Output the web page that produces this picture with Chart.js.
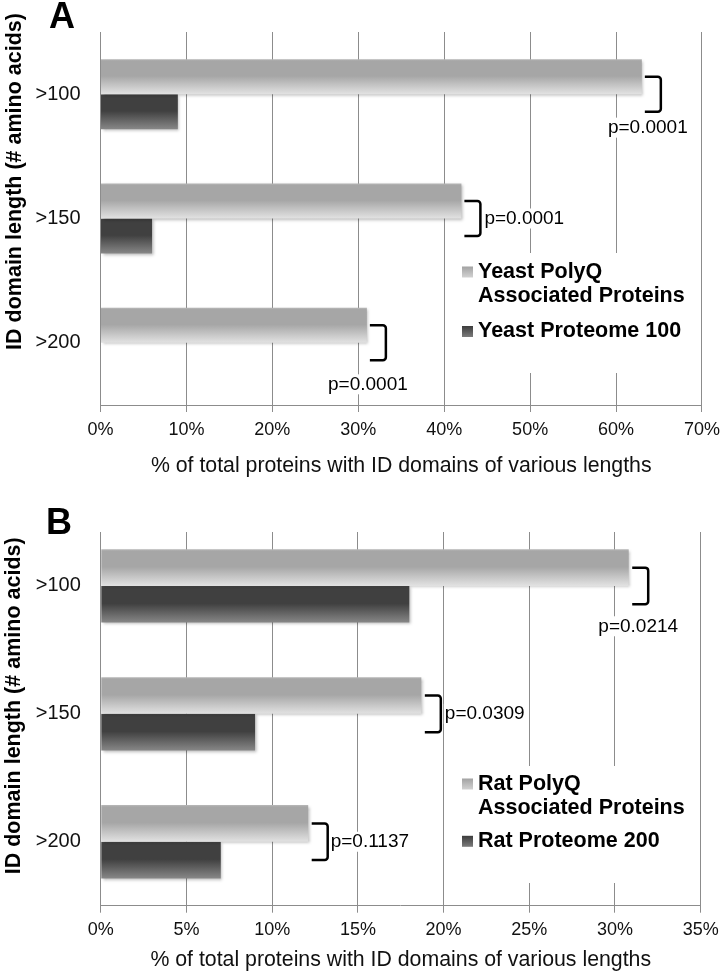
<!DOCTYPE html>
<html><head><meta charset="utf-8">
<script src="https://cdn.jsdelivr.net/npm/chart.js@4.4.0/dist/chart.umd.min.js"></script>
<style>
html,body{margin:0;padding:0;background:#fff;}
#wrap{position:relative;width:727px;height:975px;overflow:hidden;background:#fff;}
canvas{position:absolute;left:0;}
</style></head><body>
<div id="wrap">
<canvas id="chartA" width="727" height="490" style="top:0px"></canvas>
<canvas id="chartB" width="727" height="485" style="top:490px"></canvas>
</div>
<script>
// ---------------- data ----------------
const categories = ['>100', '>150', '>200'];

const yeastPolyQ = [63, 42, 31];
const yeastProteome = [9, 6, 0];
const yeastPValues = ['p=0.0001', 'p=0.0001', 'p=0.0001'];
const yeastSeriesNames = [['Yeast PolyQ', 'Associated Proteins'], ['Yeast Proteome 100']];
const xTicksA = [0, 10, 20, 30, 40, 50, 60, 70];

const ratPolyQ = [30.8, 18.7, 12.1];
const ratProteome = [18, 9, 7];
const ratPValues = ['p=0.0214', 'p=0.0309', 'p=0.1137'];
const ratSeriesNames = [['Rat PolyQ', 'Associated Proteins'], ['Rat Proteome 200']];
const xTicksB = [0, 5, 10, 15, 20, 25, 30, 35];

const xTitle = '% of total proteins with ID domains of various lengths';
const yTitle = 'ID domain length (# amino acids)';

// ---------------- styles ----------------
const FONT = '"Liberation Sans", Arial, Helvetica, sans-serif';
Chart.defaults.font.family = FONT;
Chart.defaults.color = '#111';
const GRID = '#8c8c8c';
const grayStops = [[0, '#b8b8b8'], [0.05, '#a6a6a6'], [0.48, '#a6a6a6'], [1, '#e2e2e2']];
const darkStops = [[0, '#4a4a4a'], [0.05, '#404040'], [0.48, '#404040'], [1, '#878787']];
const grayMarker = [[0, '#a2a2a2'], [1, '#d2d2d2']];
const darkMarker = [[0, '#3c3c3c'], [1, '#7c7c7c']];

function gradFill(stops, fallback) {
  return (c) => {
    const el = c.element;
    if (c.type !== 'data' || !el || !isFinite(el.y) || !isFinite(el.height) || !(el.height > 0)) return fallback;
    const g = c.chart.ctx.createLinearGradient(0, el.y - el.height / 2, 0, el.y + el.height / 2);
    stops.forEach(s => g.addColorStop(s[0], s[1]));
    return g;
  };
}

const shadowPlugin = {
  id: 'barShadow',
  beforeDatasetsDraw(chart, args, o) {
    const c = chart.ctx;
    const gc = chart.options.plugins.panelDecor.gridClipTop || 0;
    if (gc > 0) {
      const a = chart.chartArea;
      c.save();
      c.fillStyle = '#fff';
      c.fillRect(a.left - 2, a.top - 1, a.right - a.left + 4, gc + 1);
      c.restore();
    }
    c.save();
    c.shadowColor = 'rgba(0,0,0,0.28)';
    c.shadowBlur = 3;
    c.shadowOffsetX = 1.5;
    c.shadowOffsetY = 1.5;
  },
  afterDatasetsDraw(chart) { chart.ctx.restore(); }
};

const decorPlugin = {
  id: 'panelDecor',
  afterDraw(chart, args, o) {
    const ctx = chart.ctx;
    const m0 = chart.getDatasetMeta(0), m1 = chart.getDatasetMeta(1);
    ctx.save();

    // brackets + p-values
    o.pValues.forEach((txt, i) => {
      const a = m0.data[i], b = m1.data[i];
      if (!a || !b) return;
      const end = Math.max(a.x, b.x);
      const x0 = end + o.bracketGap, x1 = x0 + o.bracketWidth;
      const yT = a.y, yB = b.y, r = 3;
      ctx.strokeStyle = '#000';
      ctx.lineWidth = 2.5;
      ctx.lineJoin = 'round';
      ctx.beginPath();
      ctx.moveTo(x0, yT);
      ctx.arcTo(x1, yT, x1, yB, r);
      ctx.arcTo(x1, yB, x0, yB, r);
      ctx.lineTo(x0, yB);
      ctx.stroke();

      const pl = o.placement[i];
      ctx.font = '19px ' + FONT;
      const w = ctx.measureText(txt).width;
      let tx, ty;
      if (pl.pos === 'below') {
        tx = x0 + pl.dx - w / 2; ty = yB + pl.dy;
      } else {
        tx = x1 + pl.dx; ty = (yT + yB) / 2;
      }
      ctx.fillStyle = '#fff';
      ctx.fillRect(tx - 1, ty - 10, w + 2, 20);
      ctx.fillStyle = '#000';
      ctx.textAlign = 'left';
      ctx.textBaseline = 'middle';
      ctx.fillText(txt, tx, ty);
    });

    // legend
    const L = o.legend;
    ctx.fillStyle = '#fff';
    ctx.fillRect(L.box[0], L.box[1], L.box[2], L.box[3]);
    ctx.font = 'bold 21.5px ' + FONT;
    ctx.textAlign = 'left';
    ctx.textBaseline = 'middle';
    let li = 0;
    o.names.forEach((lines, si) => {
      lines.forEach((line, k) => {
        const y = L.lineY[li++];
        if (k === 0) {
          const ms = 11, mx = L.markerX, my = y - ms / 2;
          const g = ctx.createLinearGradient(0, my, 0, my + ms);
          (si === 0 ? grayMarker : darkMarker).forEach(s => g.addColorStop(s[0], s[1]));
          ctx.fillStyle = g;
          ctx.fillRect(mx, my, ms, ms);
        }
        ctx.fillStyle = '#000';
        ctx.fillText(line, L.textX, y);
      });
    });

    // y-axis title
    ctx.fillStyle = '#000';
    ctx.font = 'bold 21.5px ' + FONT;
    ctx.textAlign = 'center';
    ctx.textBaseline = 'middle';
    ctx.save();
    ctx.translate(o.yTitlePos[0], o.yTitlePos[1]);
    ctx.rotate(-Math.PI / 2);
    ctx.fillText(yTitle, 0, 0);
    ctx.restore();

    // panel letter
    ctx.font = 'bold 36px ' + FONT;
    ctx.fillText(o.letter, o.letterPos[0], o.letterPos[1]);
    ctx.restore();
  }
};

function makeChart(id, p) {
  const chart = new Chart(document.getElementById(id), {
    type: 'bar',
    data: {
      labels: categories,
      datasets: [
        { label: p.names[0].join(' '), data: p.s1,
          backgroundColor: gradFill(grayStops, '#a6a6a6'), borderWidth: 0,
          categoryPercentage: p.catPct, barPercentage: 1 },
        { label: p.names[1].join(' '), data: p.s2,
          backgroundColor: gradFill(darkStops, '#404040'), borderWidth: 0,
          categoryPercentage: p.catPct, barPercentage: 1 }
      ]
    },
    options: {
      indexAxis: 'y',
      responsive: false,
      animation: false,
      devicePixelRatio: 1,
      layout: { padding: { left: 0, right: p.padRight, top: p.padTop, bottom: 0 } },
      plugins: {
        legend: { display: false },
        tooltip: { enabled: false },
        panelDecor: p.decor
      },
      scales: {
        x: {
          type: 'linear', position: 'bottom', min: 0, max: p.xTicks[p.xTicks.length - 1],
          afterBuildTicks: s => { s.ticks = p.xTicks.map(v => ({ value: v })); },
          ticks: { callback: v => v + '%', font: { size: 18 }, padding: 7, color: '#111', maxRotation: 0, autoSkip: false },
          grid: { color: GRID, lineWidth: 1, drawTicks: true, tickLength: 7, tickColor: GRID },
          border: { display: true, color: GRID, width: 1 },
          title: { display: true, text: xTitle, font: { size: 21.3 }, color: '#111', padding: { top: 0, bottom: p.titlePadBottom } },
          afterFit: s => { s.height = p.xAxisHeight; }
        },
        y: {
          type: 'category', position: 'left', offset: true,
          ticks: { font: { size: 20 }, padding: 20, color: '#111', autoSkip: false },
          grid: { display: false, drawTicks: false },
          border: { display: false },
          afterFit: s => { s.width = p.yAxisWidth; }
        }
      }
    },
    plugins: [shadowPlugin, decorPlugin]
  });
  chart.update('none');
  return chart;
}

makeChart('chartA', {
  s1: yeastPolyQ, s2: yeastProteome, names: yeastSeriesNames, xTicks: xTicksA,
  catPct: 0.5625, padRight: 22, padTop: 5, yAxisWidth: 100.5, xAxisHeight: 85, titlePadBottom: 11,
  decor: {
    pValues: yeastPValues, names: yeastSeriesNames, gridClipTop: 0,
    bracketGap: 3, bracketWidth: 16,
    placement: [{ pos: 'below', dx: 3, dy: 16 }, { pos: 'right', dx: 4 }, { pos: 'below', dx: -2, dy: 24 }],
    legend: { box: [455, 253, 245, 120], markerX: 462, textX: 478, lineY: [272, 296.5, 331.5] },
    yTitlePos: [15, 181.5], letter: 'A', letterPos: [62, 18.5]
  }
});

makeChart('chartB', {
  s1: ratPolyQ, s2: ratProteome, names: ratSeriesNames, xTicks: xTicksB,
  catPct: 0.573, padRight: 26.3, padTop: 15, yAxisWidth: 100.8, xAxisHeight: 69.3, titlePadBottom: 1.7,
  decor: {
    pValues: ratPValues, names: ratSeriesNames, gridClipTop: 10,
    bracketGap: 3.5, bracketWidth: 16,
    placement: [{ pos: 'below', dx: 6, dy: 22 }, { pos: 'right', dx: 4 }, { pos: 'right', dx: 3 }],
    legend: { box: [450, 276, 248, 117], markerX: 462, textX: 478, lineY: [294, 318.3, 351.3] },
    yTitlePos: [14, 215.8], letter: 'B', letterPos: [59, 34]
  }
});
</script>
</body></html>
